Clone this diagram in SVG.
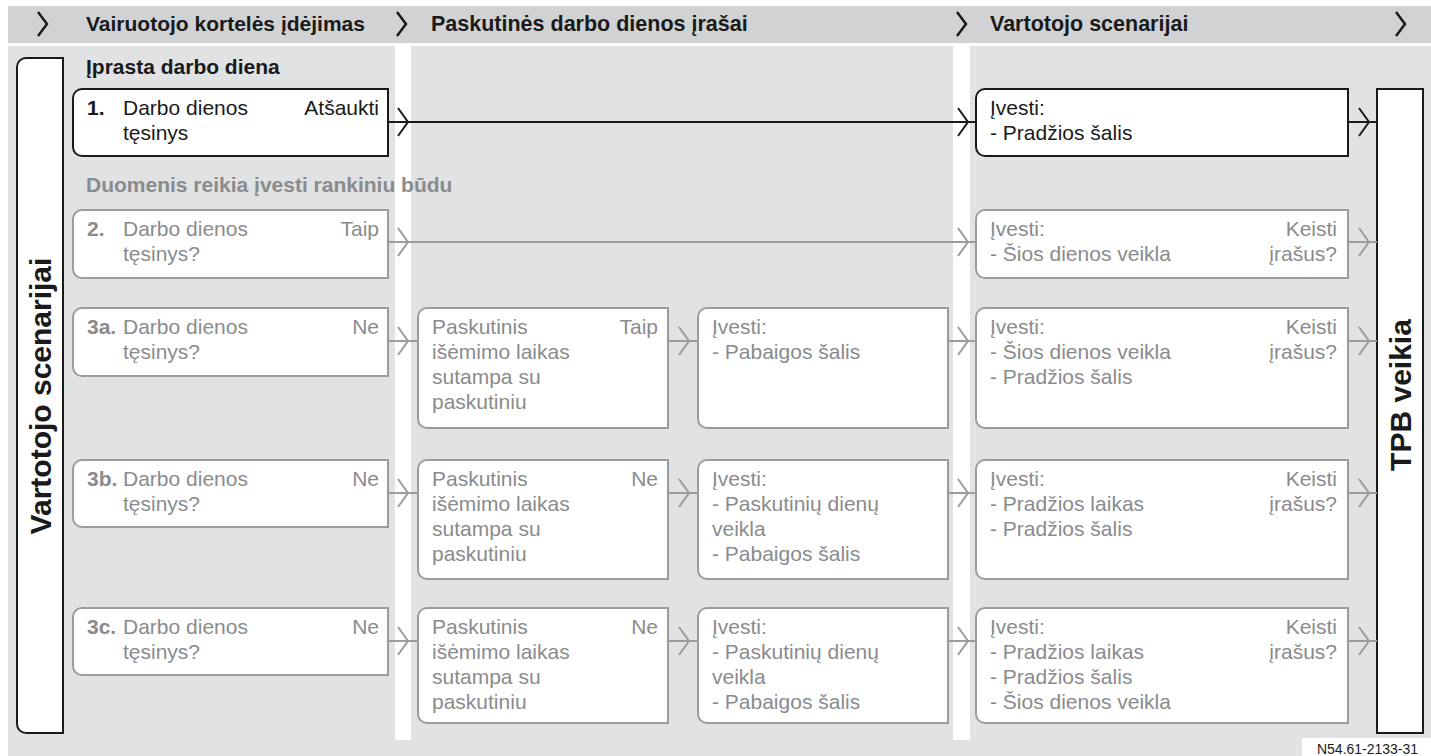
<svg xmlns="http://www.w3.org/2000/svg" width="1431" height="756" viewBox="0 0 1431 756">
<style>
.t{font-family:"Liberation Sans",Arial,Helvetica,sans-serif;font-size:21px}
.b{font-weight:bold}
.k{fill:#1a1a1a}
.g{fill:#8a8b8d}
.r{text-anchor:end}
.m{text-anchor:middle}
.v{font-size:30px}
.bk{fill:#fff;stroke:#1a1a1a;stroke-width:2}
.bg{fill:#fff;stroke:#9b9c9e;stroke-width:2}
.lk{fill:none;stroke:#1a1a1a;stroke-width:2}
.lg{fill:none;stroke:#9b9c9e;stroke-width:2}
.hc{fill:none;stroke:#1a1a1a;stroke-width:2.5}
</style>
<rect x="0" y="0" width="1431" height="756" fill="#fff"/>
<g id="background">
<rect x="8" y="6" width="1423" height="37" fill="#d1d2d4"/>
<rect x="8" y="46" width="1423" height="710" fill="#e1e2e4"/>
<rect x="395" y="46" width="16" height="694" fill="#fff"/>
<rect x="953" y="46" width="17" height="694" fill="#fff"/>
<rect x="1302" y="738" width="129" height="18" fill="#fff"/>
</g>
<g id="header">
<path class="hc" d="M38 12 L47 24 L38 36"/>
<path class="hc" d="M397 12 L406 24 L397 36"/>
<path class="hc" d="M957 12 L966 24 L957 36"/>
<path class="hc" d="M1396 12 L1405 24 L1396 36"/>
<text class="t b k" x="86" y="31">Vairuotojo kortelės įdėjimas</text>
<text class="t b k" x="431" y="31" style="font-size:21.5px">Paskutinės darbo dienos įrašai</text>
<text class="t b k" x="990" y="31" style="font-size:21.5px">Vartotojo scenarijai</text>
</g>
<g id="node-left">
<path class="bk" d="M26 58 H63 V733 H26 A9 9 0 0 1 17 724 V67 A9 9 0 0 1 26 58 Z"/>
<text class="t b k m v" transform="translate(51,396) rotate(-90)">Vartotojo scenarijai</text>
</g>
<g id="node-tpb">
<rect class="bk" x="1377" y="89" width="46" height="644"/>
<text class="t b k m v" transform="translate(1411,395) rotate(-90)">TPB veikia</text>
</g>
<g id="labels">
<text class="t b k" x="86" y="74">Įprasta darbo diena</text>
<text class="t b g" x="86" y="192">Duomenis reikia įvesti rankiniu būdu</text>
</g>
<g id="connectors">
<path class="lk" d="M388 122 H976 M398 108 L408 122 L398 136 M958 108 L968 122 L958 136 M1348 122 H1377 M1359 108 L1369 122 L1359 136"/>
<path class="lg" d="M388 242 H976 M398 228 L408 242 L398 256 M958 228 L968 242 L958 256 M1348 242 H1377 M1359 228 L1369 242 L1359 256"/>
<path class="lg" d="M388 341 H418 M398 327 L408 341 L398 355 M668 341 H698 M679 327 L689 341 L679 355 M948 341 H976 M958 327 L968 341 L958 355 M1348 341 H1377 M1359 327 L1369 341 L1359 355"/>
<path class="lg" d="M388 493 H418 M398 479 L408 493 L398 507 M668 493 H698 M679 479 L689 493 L679 507 M948 493 H976 M958 479 L968 493 L958 507 M1348 493 H1377 M1359 479 L1369 493 L1359 507"/>
<path class="lg" d="M388 641 H418 M398 627 L408 641 L398 655 M668 641 H698 M679 627 L689 641 L679 655 M948 641 H976 M958 627 L968 641 L958 655 M1348 641 H1377 M1359 627 L1369 641 L1359 655"/>
</g>
<g id="n1">
<path class="bk" d="M82 89 H388 V156 H82 A9 9 0 0 1 73 147 V98 A9 9 0 0 1 82 89 Z"/>
<text class="t b k" x="87" y="115">1.</text>
<text class="t k" x="123" y="115">Darbo dienos</text>
<text class="t k" x="123" y="140">tęsinys</text>
<text class="t k r" x="379" y="115">Atšaukti</text>
</g>
<g id="n1-enter">
<path class="bk" d="M985 89 H1348 V156 H985 A9 9 0 0 1 976 147 V98 A9 9 0 0 1 985 89 Z"/>
<text class="t k" x="990" y="115">Įvesti:</text>
<text class="t k" x="990" y="140">- Pradžios šalis</text>
</g>
<g id="n2">
<path class="bg" d="M82 210 H388 V278 H82 A9 9 0 0 1 73 269 V219 A9 9 0 0 1 82 210 Z"/>
<text class="t b g" x="87" y="236">2.</text>
<text class="t g" x="123" y="236">Darbo dienos</text>
<text class="t g" x="123" y="261">tęsinys?</text>
<text class="t g r" x="379" y="236">Taip</text>
</g>
<g id="n2-enter">
<path class="bg" d="M985 210 H1348 V278 H985 A9 9 0 0 1 976 269 V219 A9 9 0 0 1 985 210 Z"/>
<text class="t g" x="990" y="236">Įvesti:</text>
<text class="t g" x="990" y="261">- Šios dienos veikla</text>
<text class="t g r" x="1337" y="236">Keisti</text>
<text class="t g r" x="1337" y="261">įrašus?</text>
</g>
<g id="n3a">
<path class="bg" d="M82 308 H388 V376 H82 A9 9 0 0 1 73 367 V317 A9 9 0 0 1 82 308 Z"/>
<text class="t b g" x="87" y="334">3a.</text>
<text class="t g" x="123" y="334">Darbo dienos</text>
<text class="t g" x="123" y="359">tęsinys?</text>
<text class="t g r" x="379" y="334">Ne</text>
</g>
<g id="n3a-last">
<path class="bg" d="M427 308 H668 V428 H427 A9 9 0 0 1 418 419 V317 A9 9 0 0 1 427 308 Z"/>
<text class="t g" x="432" y="334">Paskutinis</text>
<text class="t g" x="432" y="359">išėmimo laikas</text>
<text class="t g" x="432" y="384">sutampa su</text>
<text class="t g" x="432" y="409">paskutiniu</text>
<text class="t g r" x="658" y="334">Taip</text>
</g>
<g id="n3a-enter">
<path class="bg" d="M707 308 H948 V428 H707 A9 9 0 0 1 698 419 V317 A9 9 0 0 1 707 308 Z"/>
<text class="t g" x="712" y="334">Įvesti:</text>
<text class="t g" x="712" y="359">- Pabaigos šalis</text>
</g>
<g id="n3a-user">
<path class="bg" d="M985 308 H1348 V428 H985 A9 9 0 0 1 976 419 V317 A9 9 0 0 1 985 308 Z"/>
<text class="t g" x="990" y="334">Įvesti:</text>
<text class="t g" x="990" y="359">- Šios dienos veikla</text>
<text class="t g" x="990" y="384">- Pradžios šalis</text>
<text class="t g r" x="1337" y="334">Keisti</text>
<text class="t g r" x="1337" y="359">įrašus?</text>
</g>
<g id="n3b">
<path class="bg" d="M82 460 H388 V527 H82 A9 9 0 0 1 73 518 V469 A9 9 0 0 1 82 460 Z"/>
<text class="t b g" x="87" y="486">3b.</text>
<text class="t g" x="123" y="486">Darbo dienos</text>
<text class="t g" x="123" y="511">tęsinys?</text>
<text class="t g r" x="379" y="486">Ne</text>
</g>
<g id="n3b-last">
<path class="bg" d="M427 460 H668 V579 H427 A9 9 0 0 1 418 570 V469 A9 9 0 0 1 427 460 Z"/>
<text class="t g" x="432" y="486">Paskutinis</text>
<text class="t g" x="432" y="511">išėmimo laikas</text>
<text class="t g" x="432" y="536">sutampa su</text>
<text class="t g" x="432" y="561">paskutiniu</text>
<text class="t g r" x="658" y="486">Ne</text>
</g>
<g id="n3b-enter">
<path class="bg" d="M707 460 H948 V579 H707 A9 9 0 0 1 698 570 V469 A9 9 0 0 1 707 460 Z"/>
<text class="t g" x="712" y="486">Įvesti:</text>
<text class="t g" x="712" y="511">- Paskutinių dienų</text>
<text class="t g" x="712" y="536">veikla</text>
<text class="t g" x="712" y="561">- Pabaigos šalis</text>
</g>
<g id="n3b-user">
<path class="bg" d="M985 460 H1348 V579 H985 A9 9 0 0 1 976 570 V469 A9 9 0 0 1 985 460 Z"/>
<text class="t g" x="990" y="486">Įvesti:</text>
<text class="t g" x="990" y="511">- Pradžios laikas</text>
<text class="t g" x="990" y="536">- Pradžios šalis</text>
<text class="t g r" x="1337" y="486">Keisti</text>
<text class="t g r" x="1337" y="511">įrašus?</text>
</g>
<g id="n3c">
<path class="bg" d="M82 608 H388 V675 H82 A9 9 0 0 1 73 666 V617 A9 9 0 0 1 82 608 Z"/>
<text class="t b g" x="87" y="634">3c.</text>
<text class="t g" x="123" y="634">Darbo dienos</text>
<text class="t g" x="123" y="659">tęsinys?</text>
<text class="t g r" x="379" y="634">Ne</text>
</g>
<g id="n3c-last">
<path class="bg" d="M427 608 H668 V723 H427 A9 9 0 0 1 418 714 V617 A9 9 0 0 1 427 608 Z"/>
<text class="t g" x="432" y="634">Paskutinis</text>
<text class="t g" x="432" y="659">išėmimo laikas</text>
<text class="t g" x="432" y="684">sutampa su</text>
<text class="t g" x="432" y="709">paskutiniu</text>
<text class="t g r" x="658" y="634">Ne</text>
</g>
<g id="n3c-enter">
<path class="bg" d="M707 608 H948 V723 H707 A9 9 0 0 1 698 714 V617 A9 9 0 0 1 707 608 Z"/>
<text class="t g" x="712" y="634">Įvesti:</text>
<text class="t g" x="712" y="659">- Paskutinių dienų</text>
<text class="t g" x="712" y="684">veikla</text>
<text class="t g" x="712" y="709">- Pabaigos šalis</text>
</g>
<g id="n3c-user">
<path class="bg" d="M985 608 H1348 V723 H985 A9 9 0 0 1 976 714 V617 A9 9 0 0 1 985 608 Z"/>
<text class="t g" x="990" y="634">Įvesti:</text>
<text class="t g" x="990" y="659">- Pradžios laikas</text>
<text class="t g" x="990" y="684">- Pradžios šalis</text>
<text class="t g" x="990" y="709">- Šios dienos veikla</text>
<text class="t g r" x="1337" y="634">Keisti</text>
<text class="t g r" x="1337" y="659">įrašus?</text>
</g>
<g id="code">
<text class="t k" style="font-size:14px" x="1317" y="754" textLength="101" lengthAdjust="spacingAndGlyphs">N54.61-2133-31</text>
</g>
</svg>
